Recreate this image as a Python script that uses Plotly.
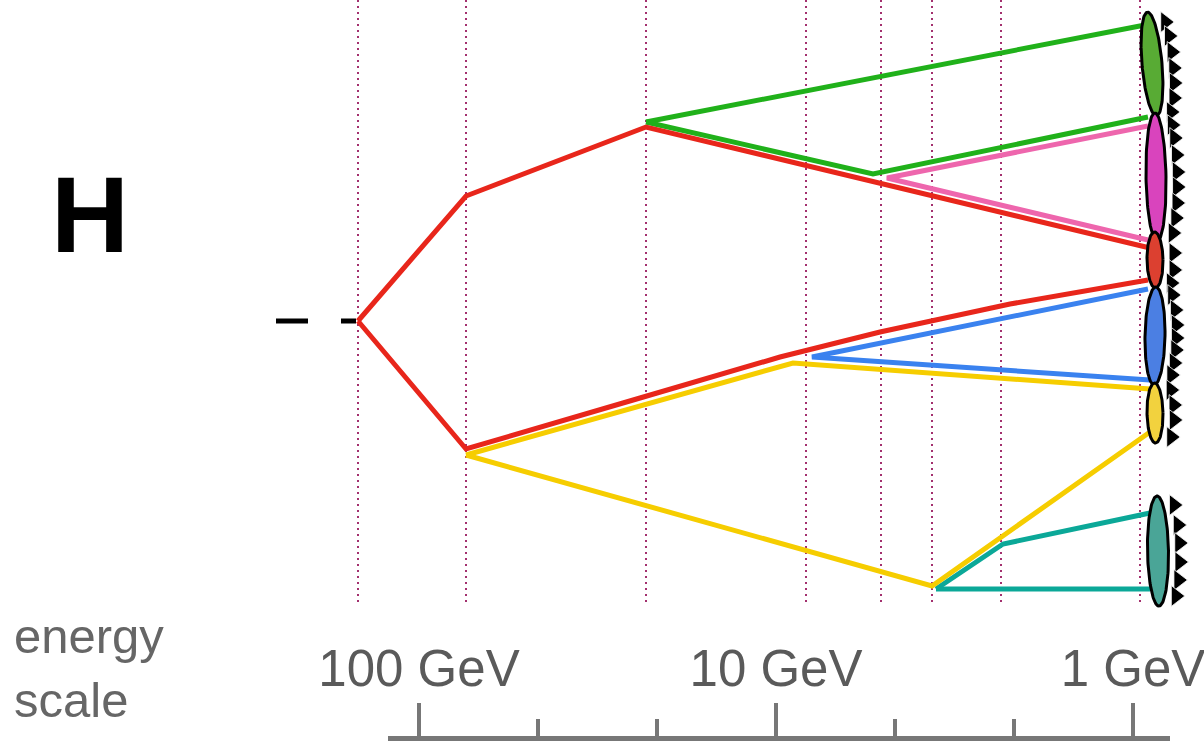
import numpy as np
import plotly.graph_objects as go

# ---- canvas (layout units follow the 1204 x 741 page) ----
W, H = 1204, 741

# ---- shower branchings: vertex coordinates of each parton line ----
red_up_x = [358, 466, 646, 1150]
red_up_y = [321, 196, 127, 248]
red_lo_x = [358, 466, 640, 780, 880, 1010, 1148]
red_lo_y = [321, 449, 398, 357, 332, 304, 280]
green_a_x = [646, 1145]
green_a_y = [122, 25]
green_b_x = [646, 873, 1148]
green_b_y = [122, 174, 117]
pink_x = [1148, 887, 1148]
pink_y = [126, 178, 240]
blue_x = [1148, 812, 1150]
blue_y = [289, 357, 380]
yellow_a_x = [466, 793, 1150]
yellow_a_y = [455, 363, 389]
yellow_b_x = [466, 932, 1150]
yellow_b_y = [455, 586, 432]
teal_a_x = [936, 1003, 1150]
teal_a_y = [589, 544, 513]
teal_b_x = [936, 1150]
teal_b_y = [589, 589]

# Higgs propagator
higgs_x = [276, 356]
higgs_y = [321, 321]

# branching scales (dotted guides)
guide_x = [358, 466, 646, 806, 881, 932, 1001, 1140]
guide_top, guide_bottom = 0, 605

# ---- hadrons: centre, half-width, half-height, tilt (deg) ----
had_names = ["green", "magenta", "red", "blue", "yellow", "teal"]
had_cx = [1152, 1156, 1155, 1155, 1155, 1158]
had_cy = [64, 177, 260, 336, 413, 551]
had_a = [10, 10, 8, 10, 8, 10.5]
had_b = [52, 64, 28, 49, 30, 55]
had_tilt = [5, 1, 1, -1, 1, 1]
had_fill = ["#58ab34", "#d944bd", "#dc4030", "#4b7fe3", "#f2d23e", "#4aa597"]

# outgoing hadron arrows (vertical positions)
arrows_y = [
    [22, 36, 52, 68, 83, 98, 112],
    [125, 138, 155, 172, 187, 203, 218, 233],
    [253, 270, 283],
    [295, 310, 325, 338, 350, 363, 375],
    [390, 405, 420, 437],
    [505, 525, 543, 562, 580, 596],
]

# energy scale axis
scale_vals = [100, 10, 1]
scale_text = ["100 GeV", "10 GeV", "1 GeV"]
scale_minor = [46.4, 21.5, 4.64, 2.15]

RED = "#e8261b"
GREEN = "#20b11a"
PINK = "#ee66ad"
BLUE = "#3a82ef"
YELLOW = "#f6cd00"
TEAL = "#0ba898"
LW = 5
FONT = "Liberation Sans, Arial, sans-serif"

fig = go.Figure()

# dotted guides
for gx in guide_x:
    fig.add_trace(go.Scatter(
        x=[gx, gx], y=[guide_top, guide_bottom], mode="lines",
        line=dict(color="#a3306e", width=2, dash="2px,4px"),
        hoverinfo="skip", showlegend=False))

# Higgs line
fig.add_trace(go.Scatter(
    x=higgs_x, y=higgs_y, mode="lines",
    line=dict(color="black", width=5, dash="32px,33px"),
    hoverinfo="skip", showlegend=False))

# parton lines (drawn back to front)
lines = [
    (teal_a_x, teal_a_y, TEAL), (teal_b_x, teal_b_y, TEAL),
    (yellow_a_x, yellow_a_y, YELLOW), (yellow_b_x, yellow_b_y, YELLOW),
    (blue_x, blue_y, BLUE),
    (green_a_x, green_a_y, GREEN), (green_b_x, green_b_y, GREEN),
    (pink_x, pink_y, PINK),
    (red_up_x, red_up_y, RED), (red_lo_x, red_lo_y, RED),
]
for lx, ly, col in lines:
    fig.add_trace(go.Scatter(
        x=lx, y=ly, mode="lines",
        line=dict(color=col, width=LW, shape="linear"),
        hoverinfo="skip", showlegend=False))

# hadrons with their arrows
t = np.linspace(0, 2 * np.pi, 120)
for i in range(len(had_names)):
    cx, cy, a, b = had_cx[i], had_cy[i], had_a[i], had_b[i]
    th = np.deg2rad(had_tilt[i])
    ex = a * np.cos(t)
    ey = b * np.sin(t)
    px = cx + ex * np.cos(th) + ey * np.sin(th)
    py = cy - ex * np.sin(th) + ey * np.cos(th)
    ys = np.array(arrows_y[i], dtype=float)
    rel = np.clip((ys - cy) / b, -1, 1)
    xs = cx + (ys - cy) * np.tan(th) + a * np.sqrt(1 - rel ** 2) + 11
    fig.add_trace(go.Scatter(
        x=xs, y=ys, mode="markers",
        marker=dict(symbol="triangle-right", size=18, color="black",
                    line=dict(color="white", width=0.8)),
        hoverinfo="skip", showlegend=False))
    fig.add_trace(go.Scatter(
        x=px, y=py, mode="lines", fill="toself", fillcolor=had_fill[i],
        line=dict(color="black", width=3),
        hoverinfo="skip", showlegend=False))

# placeholder trace that carries the energy-scale axis
fig.add_trace(go.Scatter(
    x=scale_vals, y=[0, 0, 0], xaxis="x2", yaxis="y2", mode="markers",
    marker=dict(opacity=0), hoverinfo="skip", showlegend=False))

fig.add_annotation(x=90, y=214, xref="x", yref="y", text="<b>H</b>",
                   showarrow=False,
                   font=dict(family=FONT, size=108, color="black"))
fig.add_annotation(x=12, y=668, xref="x", yref="y", text="energy<br>scale",
                   showarrow=False, xanchor="left", yanchor="middle",
                   align="left",
                   font=dict(family=FONT, size=49, color="#666666"))

lo_px, hi_px = 388, 1170
px_per_dec = (1133 - 419) / 2.0
r0 = 2 + (419 - lo_px) / px_per_dec
r1 = 0 - (hi_px - 1133) / px_per_dec

fig.update_layout(
    width=W, height=H, margin=dict(l=0, r=0, t=0, b=0, pad=0, autoexpand=False),
    paper_bgcolor="white", plot_bgcolor="white",
    xaxis=dict(range=[0, W], domain=[0, 1], visible=False, fixedrange=True,
               automargin=False),
    yaxis=dict(range=[H, 0], domain=[0, 1], visible=False, fixedrange=True,
               automargin=False),
    xaxis2=dict(
        type="log", range=[r0, r1], domain=[lo_px / W, hi_px / W],
        anchor="free", position=3 / H, side="top", automargin=False,
        showline=True, linecolor="#777777", linewidth=5,
        ticks="outside", ticklen=33, tickwidth=4, tickcolor="#777777",
        tickmode="array", tickvals=scale_vals, ticktext=scale_text,
        tickfont=dict(family=FONT, size=51, color="#5a5a5a"),
        ticklabelstandoff=-3, ticklabeloverflow="allow",
        minor=dict(tickmode="array", tickvals=scale_minor, ticks="outside",
                   ticklen=17, tickwidth=4, tickcolor="#777777"),
        showgrid=False, zeroline=False, fixedrange=True),
    yaxis2=dict(domain=[0, 0.01], anchor="x2", visible=False, fixedrange=True,
                automargin=False),
    showlegend=False,
)

fig.write_html("out.html")
